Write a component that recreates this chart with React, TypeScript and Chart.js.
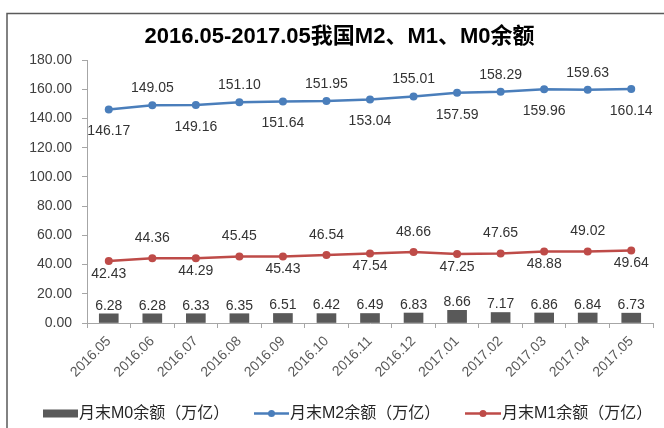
import React, { useEffect, useRef } from "react";
import { Chart, registerables } from "chart.js";

Chart.register(...registerables);

const categories = ["2016.05", "2016.06", "2016.07", "2016.08", "2016.09", "2016.10", "2016.11", "2016.12", "2017.01", "2017.02", "2017.03", "2017.04", "2017.05"];
const m0Values = [6.28, 6.28, 6.33, 6.35, 6.51, 6.42, 6.49, 6.83, 8.66, 7.17, 6.86, 6.84, 6.73];
const m2Values = [146.17, 149.05, 149.16, 151.1, 151.64, 151.95, 153.04, 155.01, 157.59, 158.29, 159.96, 159.63, 160.14];
const m1Values = [42.43, 44.36, 44.29, 45.45, 45.43, 46.54, 47.54, 48.66, 47.25, 47.65, 48.88, 49.02, 49.64];
const yMin = 0;
const yMax = 180;
const yStep = 20;
const titleText = "2016.05-2017.05我国M2、M1、M0余额";
const legendLabels = ["月末M0余额（万亿）", "月末M2余额（万亿）", "月末M1余额（万亿）"];

const BAR_COLOR = "#595959";
const M2_COLOR = "#4a7ebb";
const M1_COLOR = "#be4b48";
const LATIN = '"Liberation Sans", "Noto Sans CJK SC", sans-serif';

const decorPlugin = {
  id: "decor",
  afterDatasetsDraw(chart: any) {
    const ctx = chart.ctx;
    ctx.save();
    ctx.font = `14px ${LATIN}`;
    ctx.fillStyle = "#333333";
    ctx.textAlign = "center";
    ctx.textBaseline = "middle";
    const barMeta = chart.getDatasetMeta(0);
    barMeta.data.forEach((el: any, i: number) => {
      ctx.fillText(m0Values[i].toFixed(2), el.x, el.y - 8);
    });
    const m2Meta = chart.getDatasetMeta(1);
    m2Meta.data.forEach((el: any, i: number) => {
      const dy = i % 2 === 0 ? 22 : -17;
      ctx.fillText(m2Values[i].toFixed(2), el.x, el.y + dy);
    });
    const m1Meta = chart.getDatasetMeta(2);
    m1Meta.data.forEach((el: any, i: number) => {
      const dy = i % 2 === 0 ? 13 : -20;
      ctx.fillText(m1Values[i].toFixed(2), el.x, el.y + dy);
    });
    ctx.restore();
  },
  afterDraw(chart: any) {
    const ctx = chart.ctx;
    ctx.save();
    ctx.strokeStyle = "#5a5a5a";
    ctx.lineWidth = 1.5;
    ctx.beginPath();
    ctx.moveTo(7, 428);
    ctx.lineTo(7, 13.5);
    ctx.lineTo(664, 13.5);
    ctx.stroke();
    ctx.fillStyle = "#000000";
    ctx.font = `bold 22px ${LATIN}`;
    ctx.textAlign = "center";
    ctx.textBaseline = "middle";
    ctx.fillText(titleText, 339.5, 37);
    const ly = 413.5;
    ctx.font = `16px ${LATIN}`;
    ctx.textAlign = "left";
    ctx.fillStyle = BAR_COLOR;
    ctx.fillRect(43, 409.5, 35, 8);
    ctx.fillStyle = "#262626";
    ctx.fillText(legendLabels[0], 79, ly);
    ctx.strokeStyle = M2_COLOR;
    ctx.lineWidth = 2.5;
    ctx.beginPath();
    ctx.moveTo(254, ly);
    ctx.lineTo(289, ly);
    ctx.stroke();
    ctx.fillStyle = M2_COLOR;
    ctx.beginPath();
    ctx.arc(271.5, ly, 3.5, 0, Math.PI * 2);
    ctx.fill();
    ctx.fillStyle = "#262626";
    ctx.fillText(legendLabels[1], 290, ly);
    ctx.strokeStyle = M1_COLOR;
    ctx.beginPath();
    ctx.moveTo(465, ly);
    ctx.lineTo(501, ly);
    ctx.stroke();
    ctx.fillStyle = M1_COLOR;
    ctx.beginPath();
    ctx.arc(483, ly, 3.5, 0, Math.PI * 2);
    ctx.fill();
    ctx.fillStyle = "#262626";
    ctx.fillText(legendLabels[2], 502, ly);
    ctx.restore();
  },
};

export default function App() {
  const canvasRef = useRef<HTMLCanvasElement | null>(null);

  useEffect(() => {
    const canvas = canvasRef.current;
    if (!canvas) return;
    const chart = new Chart(canvas, {
      type: "bar",
      data: {
        labels: categories,
        datasets: [
          {
            type: "bar",
            label: legendLabels[0],
            data: m0Values,
            backgroundColor: BAR_COLOR,
            barThickness: 19,
            order: 3,
          } as any,
          {
            type: "line",
            label: legendLabels[1],
            data: m2Values,
            borderColor: M2_COLOR,
            backgroundColor: M2_COLOR,
            borderWidth: 2.5,
            pointRadius: 4,
            pointBorderWidth: 0,
            pointBackgroundColor: M2_COLOR,
            tension: 0,
            order: 1,
          } as any,
          {
            type: "line",
            label: legendLabels[2],
            data: m1Values,
            borderColor: M1_COLOR,
            backgroundColor: M1_COLOR,
            borderWidth: 2.5,
            pointRadius: 4,
            pointBorderWidth: 0,
            pointBackgroundColor: M1_COLOR,
            tension: 0,
            order: 2,
          } as any,
        ],
      },
      options: {
        responsive: false,
        animation: false,
        devicePixelRatio: 1,
        layout: { padding: { top: 60, left: 0, right: 11, bottom: 0 } },
        plugins: {
          legend: { display: false },
          title: { display: false },
          tooltip: { enabled: false },
        },
        scales: {
          x: {
            type: "category",
            offset: true,
            grid: {
              display: true,
              drawOnChartArea: false,
              drawTicks: true,
              tickLength: 5,
              color: "#a6a6a6",
              offset: true,
            },
            border: { display: true, color: "#a6a6a6", width: 1 },
            ticks: {
              minRotation: 45,
              maxRotation: 45,
              autoSkip: false,
              padding: 5,
              color: "#595959",
              font: { size: 14, family: LATIN },
            },
            afterFit(scale: any) {
              scale.height = 105;
            },
          },
          y: {
            min: yMin,
            max: yMax,
            grid: {
              display: true,
              drawOnChartArea: false,
              drawTicks: true,
              tickLength: 5,
              color: "#a6a6a6",
            },
            border: { display: true, color: "#a6a6a6", width: 1 },
            ticks: {
              stepSize: yStep,
              padding: 10,
              color: "#404040",
              font: { size: 14, family: LATIN },
              callback: (v: any) => Number(v).toFixed(2),
            },
            afterFit(scale: any) {
              scale.width = 87;
            },
          },
        },
      } as any,
      plugins: [decorPlugin],
    });
    return () => chart.destroy();
  }, []);

  return (
    <div style={{ position: "fixed", left: 0, top: 0, width: 664, height: 428, background: "#ffffff" }}>
      <canvas ref={canvasRef} width={664} height={428} style={{ width: 664, height: 428, display: "block" }} />
    </div>
  );
}
